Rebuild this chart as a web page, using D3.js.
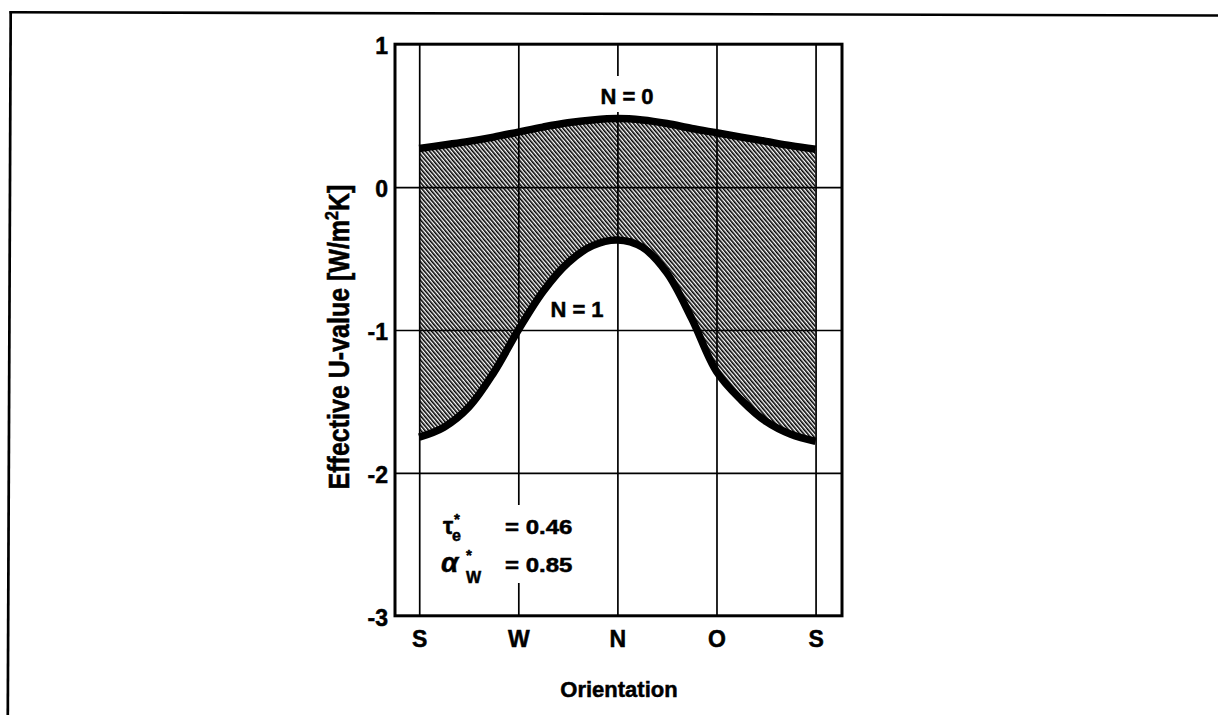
<!DOCTYPE html>
<html>
<head>
<meta charset="utf-8">
<script src="https://cdn.jsdelivr.net/npm/d3@7"></script>
<style>
  html, body { margin: 0; padding: 0; background: #fff; }
  svg { display: block; }
  text { font-family: "Liberation Sans", Arial, Helvetica, sans-serif; font-weight: bold; fill: #000;
         stroke: #000; stroke-width: 0.5px; }
</style>
</head>
<body>
<svg id="chart" width="1218" height="715"></svg>
<script>
// Orientation (azimuth, degrees from south via west) and effective U-values
const azimuth = [0, 22.5, 45, 67.5, 90, 112.5, 135, 157.5, 180, 202.5, 225, 247.5, 270, 292.5, 315, 337.5, 360];
const uN0 = [0.27, 0.295, 0.32, 0.35, 0.385, 0.42, 0.45, 0.47, 0.48, 0.47, 0.445, 0.41, 0.38, 0.35, 0.32, 0.29, 0.265];
const uN1 = [-1.75, -1.68, -1.54, -1.30, -1.0, -0.73, -0.53, -0.41, -0.37, -0.42, -0.60, -0.92, -1.29, -1.49, -1.64, -1.73, -1.78];

const xTickValues = [0, 90, 180, 270, 360];
const xTickLabels = ["S", "W", "N", "O", "S"];
const yTickValues = [1, 0, -1, -2, -3];

const svg = d3.select("#chart");

const x = d3.scaleLinear().domain([-22, 384]).range([395, 842]);
const y = d3.scaleLinear().domain([1, -3]).range([44.2, 615.8]);

const plotLeft = x.range()[0], plotRight = x.range()[1];
const plotTop = y.range()[0], plotBottom = y.range()[1];

// outer page frame (top and left rules)
svg.append("line").attr("x1", 9.5).attr("y1", 12.2).attr("x2", 1218).attr("y2", 15.5)
  .attr("stroke", "#000").attr("stroke-width", 2.6);
svg.append("line").attr("x1", 10.7).attr("y1", 11).attr("x2", 7.8).attr("y2", 715)
  .attr("stroke", "#000").attr("stroke-width", 2.7);

// hatch pattern for the band between the curves
const defs = svg.append("defs");
const pat = defs.append("pattern")
  .attr("id", "hatch")
  .attr("patternUnits", "userSpaceOnUse")
  .attr("width", 3).attr("height", 10)
  .attr("patternTransform", "rotate(-40)");
pat.append("rect").attr("width", 3).attr("height", 10).attr("fill", "#fff");
pat.append("rect").attr("x", 0).attr("y", 0).attr("width", 1.6).attr("height", 10).attr("fill", "#000");

const rows = azimuth.map((a, i) => ({ a, n0: uN0[i], n1: uN1[i] }));
const smooth = d3.curveCatmullRom.alpha(0.5);

svg.append("path")
  .datum(rows)
  .attr("fill", "url(#hatch)")
  .attr("d", d3.area()
    .x(d => x(d.a))
    .y0(d => y(d.n1))
    .y1(d => y(d.n0))
    .curve(smooth));

// grid lines
const gridX = svg.append("g")
  .attr("transform", `translate(0,${plotBottom})`)
  .call(d3.axisBottom(x).tickValues(xTickValues).tickSize(-(plotBottom - plotTop)).tickFormat(""));
const gridY = svg.append("g")
  .attr("transform", `translate(${plotLeft},0)`)
  .call(d3.axisLeft(y).tickValues([0, -1, -2]).tickSize(-(plotRight - plotLeft)).tickFormat(""));
[gridX, gridY].forEach(g => {
  g.select(".domain").remove();
  g.selectAll(".tick line").attr("stroke", "#000").attr("stroke-width", 1.7);
});

// label backgrounds that break the grid lines
function labelBox(bx, by, bw, bh) {
  svg.append("rect").attr("x", bx).attr("y", by).attr("width", bw).attr("height", bh).attr("fill", "#fff");
}
labelBox(x(150), 76, x(210) - x(150), 36);
labelBox(438, 505, 147, 78);

// curves
const curveLine = d3.line().x((d, i) => x(azimuth[i])).y(d => y(d)).curve(smooth);
svg.append("path").datum(uN0).attr("d", curveLine)
  .attr("fill", "none").attr("stroke", "#000").attr("stroke-width", 7.5).attr("stroke-linejoin", "round");
svg.append("path").datum(uN1).attr("d", curveLine)
  .attr("fill", "none").attr("stroke", "#000").attr("stroke-width", 7.5).attr("stroke-linejoin", "round");

// plot frame
svg.append("rect")
  .attr("x", plotLeft).attr("y", plotTop)
  .attr("width", plotRight - plotLeft).attr("height", plotBottom - plotTop)
  .attr("fill", "none").attr("stroke", "#000").attr("stroke-width", 3);

// axes with labels
const xAxis = svg.append("g")
  .attr("transform", `translate(0,${plotBottom})`)
  .call(d3.axisBottom(x).tickValues(xTickValues).tickSize(0).tickPadding(15)
    .tickFormat((d, i) => xTickLabels[i]));
const yAxis = svg.append("g")
  .attr("transform", `translate(${plotLeft},0)`)
  .call(d3.axisLeft(y).tickValues(yTickValues).tickSize(0).tickPadding(7)
    .tickFormat(d => d < 0 ? "-" + Math.abs(d) : String(d)));
[xAxis, yAxis].forEach(g => {
  g.select(".domain").remove();
  g.selectAll("text").attr("font-size", 23).attr("font-family", null).attr("fill", "#000");
});
yAxis.selectAll("text").attr("dy", "0.42em");

// axis titles
svg.append("text")
  .attr("x", 619).attr("y", 697)
  .attr("text-anchor", "middle").attr("font-size", 22)
  .text("Orientation");

const yTitle = svg.append("text")
  .attr("transform", "translate(349,337) scale(1.15,1) rotate(-90)")
  .attr("text-anchor", "middle").attr("font-size", 25);
yTitle.append("tspan").text("Effective U-value [W/m");
yTitle.append("tspan").attr("font-size", 16).attr("dy", -10).text("2");
yTitle.append("tspan").attr("dy", 10).text("K]");

// curve labels
svg.append("text").attr("x", 627).attr("y", 104).attr("text-anchor", "middle")
  .attr("font-size", 22).text("N = 0");
svg.append("text").attr("x", 577).attr("y", 317).attr("text-anchor", "middle")
  .attr("font-size", 22).text("N = 1");

// parameter note
const note = svg.append("g");
note.append("text").attr("x", 443).attr("y", 534).attr("font-size", 23)
  .attr("font-family", "DejaVu Sans, sans-serif").attr("stroke-width", 0.3).text("τ");
note.append("text").attr("x", 454).attr("y", 524).attr("font-size", 15).text("*");
note.append("text").attr("x", 452).attr("y", 541).attr("font-size", 16).text("e");
note.append("text").attr("x", 505).attr("y", 534).attr("font-size", 20)
  .attr("transform", "translate(505,0) scale(1.2,1) translate(-505,0)").text("= 0.46");

note.append("text").attr("x", 441).attr("y", 572).attr("font-size", 28)
  .attr("font-weight", "normal").attr("font-style", "italic").attr("stroke-width", 0.3)
  .attr("font-family", "DejaVu Serif, serif").text("α");
note.append("text").attr("x", 466).attr("y", 560).attr("font-size", 15).text("*");
note.append("text").attr("x", 466).attr("y", 583).attr("font-size", 16).text("W");
note.append("text").attr("x", 505).attr("y", 572).attr("font-size", 20)
  .attr("transform", "translate(505,0) scale(1.2,1) translate(-505,0)").text("= 0.85");
</script>
</body>
</html>
